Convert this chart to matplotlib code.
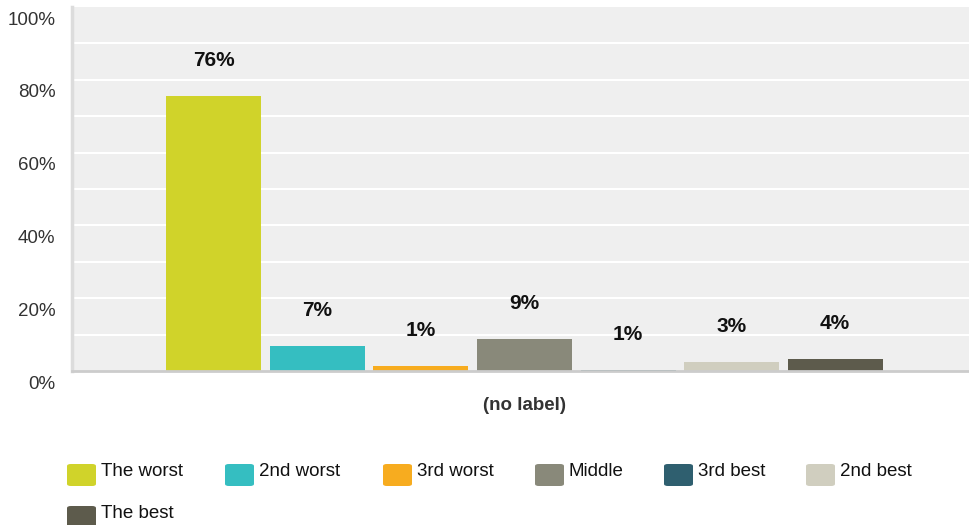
import matplotlib.pyplot as plt
import matplotlib.transforms as mtransforms
from matplotlib.patches import FancyBboxPatch

# data
categories = ["(no label)"]
series = ["The worst", "2nd worst", "3rd worst", "Middle", "3rd best", "2nd best", "The best"]
values = [75.5, 6.9, 1.4, 8.8, 0.3, 2.5, 3.3]
value_labels = ["76%", "7%", "1%", "9%", "1%", "3%", "4%"]
colors = ["#d0d32a", "#35bec1", "#f7ac1f", "#89897a", "#2f5f6f", "#d0cebf", "#5d5b4c"]
yticks = [0, 20, 40, 60, 80, 100]

plt.rcParams["font.family"] = ["Liberation Sans", "DejaVu Sans"]

fig = plt.figure(figsize=(9.69, 5.25), dpi=100)
W, H = 969, 525
ax = fig.add_axes([72 / W, (H - 371) / H, (977 - 72) / W, 364 / H])
ax.set_facecolor("#efefef")

slot = 0.1144
width = 0.105
for i, (name, v, lab, c) in enumerate(zip(series, values, value_labels, colors)):
    x = (i - 3) * slot
    ax.bar(x, v, width=width, color=c, zorder=2)
    ax.annotate(lab, (x, v), xytext=(0, 25.5), textcoords="offset points",
                ha="center", va="center", fontsize=15, fontweight="bold",
                color="#111111", zorder=4)

ax.set_xlim(-0.5, 0.5)
ax.set_ylim(0, 100)
for g in range(10, 100, 10):
    ax.axhline(g, color="white", lw=1.5, zorder=1)

ax.set_yticks(yticks)
ax.set_yticklabels([f"{t}%" for t in yticks], fontsize=13.5, color="#333333")
ax.tick_params(axis="y", length=0, pad=12)
shift = mtransforms.ScaledTranslation(0, -8 / 72, fig.dpi_scale_trans)
for lbl in ax.get_yticklabels():
    lbl.set_transform(lbl.get_transform() + shift)
ax.set_xticks([0])
ax.set_xticklabels(categories, fontsize=13.5, fontweight="bold", color="#333333")
ax.tick_params(axis="x", length=0, pad=19)

for s in ["top", "right"]:
    ax.spines[s].set_visible(False)
ax.spines["left"].set_color("#dcdcdc")
ax.spines["left"].set_linewidth(2.5)
ax.spines["bottom"].set_color("#cccccc")
ax.spines["bottom"].set_linewidth(2.0)
ax.spines["bottom"].set_zorder(3)

# legend, drawn manually in flowing rows
legend_pos = [(67, 464), (225, 464), (383, 464), (535, 464), (664, 464), (806, 464), (67, 506)]
for (lx, ly), name, c in zip(legend_pos, series, colors):
    box = FancyBboxPatch((lx / W, 1 - (ly + 22) / H), 29 / W, 22 / H,
                         boxstyle="round,pad=0,rounding_size=0.004",
                         transform=fig.transFigure, facecolor=c, edgecolor="none")
    fig.patches.append(box)
    fig.text((lx + 34) / W, 1 - (ly + 8) / H, name, fontsize=13.5, color="#111111",
             ha="left", va="center")

fig.savefig("out.png", dpi=100)
